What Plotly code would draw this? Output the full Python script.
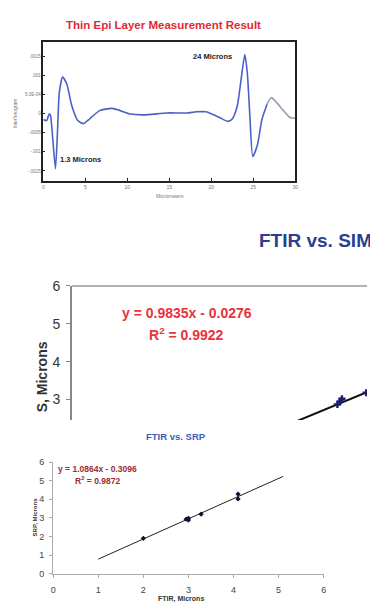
import plotly.graph_objects as go

# ---- Top chart: interferogram ----
opd_um = [0, 0.4, 0.7, 0.86, 1.1, 1.45, 1.7, 1.9, 2.3, 2.8, 3.4, 4.1, 4.77, 5.5, 6.7, 8.1, 8.9,
          10.4, 12.0, 14.7, 17.1, 18.25, 19.4, 20.0, 21.0, 21.95, 22.5, 23.1, 23.5, 24.0, 24.3,
          24.6, 24.95, 25.5, 26.05, 26.65, 27.15, 27.8, 28.6, 29.4, 30.0]
signal = [-0.00015, -0.00018, 0.0, -0.00005, -0.0006, -0.00144, -0.0004, 0.00055, 0.00096, 0.00077,
          0.0002, -0.00018, -0.00026, -0.00014, 0.00008, 0.00014, 0.0001,
          -0.00001, -0.00003, 0.00002, 0.00002, 0.00005, 0.00005, 0.0, -0.0001, -0.0002, -0.00014,
          0.0002, 0.0008, 0.00155, 0.00106, -0.00005, -0.00112, -0.00082, -0.00014, 0.00025,
          0.00042, 0.00029, 0.00008, -0.0001, -0.00012]
top_yticks = [0.0015, 0.001, 0.0005, 0, -0.0005, -0.001, -0.0015]
top_yticktext = [".0015", ".001", "5.0E-04", "0", "-.0005", "-.001", "-.0015"]
top_xticks = [0, 5, 10, 15, 20, 25, 30]

# ---- Middle chart: FTIR vs. SIMS ----
sims_ftir = [2.95, 2.98, 3.0, 3.27]
sims_vals = [2.87, 2.95, 3.02, 3.18]
sims_fit_x = [1.0, 5.5]
sims_fit_y = [0.956, 5.38]
sims_yticks = [3, 4, 5, 6]

# ---- Bottom chart: FTIR vs. SRP ----
srp_ftir = [2.0, 2.95, 3.0, 3.0, 3.28, 4.1, 4.1]
srp_vals = [1.9, 2.93, 2.88, 2.98, 3.2, 4.02, 4.28]
srp_fit_x = [1.0, 5.1]
srp_fit_y = [0.78, 5.23]
srp_ticks = [0, 1, 2, 3, 4, 5, 6]

W, H = 370, 609
def px(x):
    return x / W
def py(y):
    return 1 - y / H

FONT = "Arial, Liberation Sans, sans-serif"

fig = go.Figure()

# top curve: blue main, grey tail
split = opd_um.index(26.65)
fig.add_trace(go.Scatter(x=opd_um[split:], y=signal[split:], mode="lines",
                         line=dict(color="#9a9ab4", width=1.6, shape="spline", smoothing=0.6),
                         xaxis="x", yaxis="y", hoverinfo="skip"))
fig.add_trace(go.Scatter(x=opd_um[:split + 1], y=signal[:split + 1], mode="lines",
                         line=dict(color="#4a62c6", width=1.6, shape="spline", smoothing=0.6),
                         xaxis="x", yaxis="y", hoverinfo="skip"))

# middle
fig.add_trace(go.Scatter(x=sims_fit_x, y=sims_fit_y, mode="lines",
                         line=dict(color="#111111", width=2), xaxis="x2", yaxis="y2"))
fig.add_trace(go.Scatter(x=sims_ftir, y=sims_vals, mode="markers",
                         marker=dict(symbol="cross", size=6, color="#1c1c70"),
                         xaxis="x2", yaxis="y2"))

# bottom
fig.add_trace(go.Scatter(x=srp_fit_x, y=srp_fit_y, mode="lines",
                         line=dict(color="#222222", width=1), xaxis="x3", yaxis="y3"))
fig.add_trace(go.Scatter(x=srp_ftir, y=srp_vals, mode="markers",
                         marker=dict(symbol="diamond", size=4, color="#111133"),
                         xaxis="x3", yaxis="y3"))

fig.update_layout(
    width=W, height=H, margin=dict(l=0, r=0, t=0, b=0),
    paper_bgcolor="white", plot_bgcolor="white", showlegend=False,
    font=dict(family=FONT, color="#555555"),
    xaxis=dict(domain=[px(41), px(297)], range=[0, 30], tickvals=top_xticks,
               showline=True, mirror=True, linecolor="#222222", linewidth=1.5,
               ticks="inside", ticklen=3, tickcolor="#222222", showgrid=False, zeroline=False,
               tickfont=dict(size=5, color="#777777"), anchor="y"),
    yaxis=dict(domain=[py(177), py(35)], range=[-0.001769, 0.001872], tickvals=top_yticks,
               ticktext=top_yticktext, showline=True, mirror=True, linecolor="#222222",
               linewidth=1.5, ticks="inside", ticklen=2, tickcolor="#222222", showgrid=False,
               zeroline=False, tickfont=dict(size=4.5, color="#777777"), anchor="x"),
    xaxis2=dict(domain=[px(70), 1], range=[0, 300 / 91.5], visible=False, anchor="y2"),
    yaxis2=dict(domain=[py(421), py(284)], range=[6 - (421 - 284) / 38.7, 6], tickvals=sims_yticks,
                showline=True, linecolor="#888888", linewidth=1.5, ticks="outside", ticklen=4,
                tickcolor="#888888", showgrid=False, zeroline=False, ticklabelstandoff=3,
                tickfont=dict(size=14, color="#333333"), anchor="x2"),
    xaxis3=dict(domain=[px(51), px(326)], range=[0, 6], tickvals=srp_ticks,
                showline=True, linecolor="#aaaaaa", linewidth=1, ticks="outside", ticklen=3,
                tickcolor="#aaaaaa", showgrid=False, zeroline=False, ticklabelstandoff=5,
                tickfont=dict(size=9, color="#444444"), anchor="y3"),
    yaxis3=dict(domain=[py(578), py(464)], range=[0, 6], tickvals=srp_ticks,
                showline=True, linecolor="#aaaaaa", linewidth=1, ticks="outside", ticklen=3,
                tickcolor="#aaaaaa", showgrid=False, zeroline=False, ticklabelstandoff=3,
                tickfont=dict(size=9, color="#444444"), anchor="x3"),
)

# top border of middle chart
fig.add_shape(type="line", xref="paper", yref="paper", x0=px(70), x1=1, y0=py(284), y1=py(284),
              line=dict(color="#999999", width=1.5))

def ann(text, x, y, size, color, bold=True, angle=0, xanchor="center"):
    t = f"<b>{text}</b>" if bold else text
    fig.add_annotation(text=t, x=px(x), y=py(y), xref="paper", yref="paper", showarrow=False,
                       font=dict(size=size, color=color, family=FONT), textangle=angle,
                       xanchor=xanchor, yanchor="middle")

# top chart texts
ann("Thin Epi Layer Measurement Result", 163, 17, 11.5, "#e02a35")
ann("24 Microns", 213, 50, 7.5, "#222222")
ann("1.3 Microns", 79, 155, 7.5, "#222222")
ann("Micrometers", 170, 192, 5, "#777777", bold=False)
ann("Interferogram", 12, 108, 5, "#777777", bold=False, angle=-90)

# middle chart texts
ann("FTIR vs. SIM", 258, 238, 19, "#2b3f90", xanchor="left")
ann("y = 0.9835x - 0.0276", 187, 312, 14, "#e8323c")
ann("R<sup>2</sup> = 0.9922", 187, 333, 14, "#e8323c")
ann("S, Microns", 40, 377, 14, "#333333", angle=-90)

# bottom chart texts
ann("FTIR, Microns", 181, 604, 7, "#333333")
ann("FTIR vs. SRP", 176, 438, 9.5, "#3b5cb8")
ann("y = 1.0864x - 0.3096", 96, 471, 8.5, "#a02a30")
ann("R<sup>2</sup> = 0.9872", 96, 483, 8.5, "#a02a30")
ann("SRP, Microns", 32, 520, 6, "#333333", angle=-90)

fig.write_html("out.html", config={"displayModeBar": False},
               post_script="document.body.style.margin='0px';")
